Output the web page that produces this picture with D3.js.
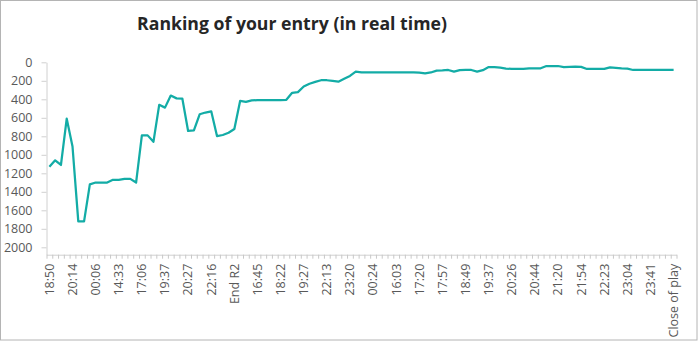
<!DOCTYPE html>
<html>
<head>
<meta charset="utf-8">
<script src="https://cdn.jsdelivr.net/npm/d3@7"></script>
<style>
  html, body { margin: 0; padding: 0; background: #fff; }
  svg { display: block; }
</style>
</head>
<body>
<svg id="chart" width="698" height="341"></svg>
<script>
// ---- data ----
const titleText = "Ranking of your entry (in real time)";
const tickLabels = ["18:50","20:14","00:06","14:33","17:06","19:37","20:27","22:16","End R2","16:45","18:22","19:27","22:13","23:20","00:24","16:03","17:20","17:57","18:49","19:37","20:26","20:44","21:20","21:54","22:23","23:04","23:41","Close of play"];
const labelEvery = 4;
const ranks = [
  1130,1060,1110,610,910,1720,1720,1320,1300,1300,
  1300,1270,1270,1260,1260,1300,790,790,860,460,
  490,360,390,392,742,735,562,543,530,798,
  786,762,721,418,427,411,410,410,410,410,
  410,405,330,323,262,232,212,194,194,202,
  210,178,147,100,108,110,110,110,110,110,
  110,110,110,110,112,120,110,90,88,83,
  101,84,83,83,100,85,52,53,58,68,
  72,72,72,65,65,65,40,40,40,52,
  50,47,50,72,72,72,72,55,60,65,
  68,83,83,83,83,83,83,83,83
];
const yTicks = [0,200,400,600,800,1000,1200,1400,1600,1800,2000];
const yMax = 2080;

// ---- layout ----
const svg = d3.select("#chart");
const W = 698, H = 341;
const x0 = 46.5, x1 = 676.5;
const yTop = 62.3, yBot = 254.7;

svg.append("rect").attr("x",0.5).attr("y",0.5).attr("width",W-1.5).attr("height",H-1.5)
  .attr("fill","#fff").attr("stroke","#b4b4b4").attr("stroke-width",1);

const n = ranks.length;
const idx = d3.range(n);
const xBand = d3.scaleBand().domain(idx).range([x0,x1]).padding(0);
const xEdge = d3.scaleLinear().domain([0,n]).range([x0,x1]);
const y = d3.scaleLinear().domain([0,yMax]).range([yTop,yBot]);

const font = "'Open Sans', 'Noto Sans', sans-serif";

// title (fit to reference width)
const title = svg.append("text").attr("x",292).attr("y",30).attr("text-anchor","middle")
  .attr("font-family","'Open Sans', sans-serif").attr("font-weight","bold")
  .attr("font-size",18).attr("fill","#262626").text(titleText);
const tw = title.node().getComputedTextLength();
title.attr("font-size", Math.min(19, 18 * 310 / tw));

// y axis
const gy = svg.append("g").attr("transform",`translate(${x0},0)`)
  .call(d3.axisLeft(y).tickValues(yTicks).tickFormat(d3.format("d"))
    .tickSize(5).tickSizeOuter(0).tickPadding(9));
gy.select(".domain").attr("stroke","#d0d0d0");
gy.selectAll(".tick line").attr("stroke","#d0d0d0");
gy.selectAll(".tick text").attr("font-family",font).attr("font-size",12.5).attr("fill","#595959");

// x axis ticks at category boundaries
const gxt = svg.append("g").attr("transform",`translate(0,${yBot})`)
  .call(d3.axisBottom(xEdge).tickValues(d3.range(n+1)).tickFormat("").tickSize(4).tickSizeOuter(0));
gxt.select(".domain").attr("stroke","#d0d0d0");
gxt.selectAll(".tick line").attr("stroke","#c8c8c8");

// x labels
const labelIdx = idx.filter(i => i % labelEvery === 0);
const gxl = svg.append("g").attr("transform",`translate(0,${yBot})`)
  .call(d3.axisBottom(xBand).tickValues(labelIdx)
    .tickFormat(i => tickLabels[i/labelEvery]).tickSize(0).tickSizeOuter(0));
gxl.select(".domain").remove();
gxl.selectAll(".tick text")
  .attr("font-family",font).attr("font-size",12.5).attr("fill","#595959")
  .attr("text-anchor","end").attr("dy","0.35em")
  .attr("transform","translate(0,9) rotate(-90)")
  .attr("x",0).attr("y",0);

// line
const line = d3.line().x((d,i) => xBand(i) + xBand.bandwidth()/2).y(d => y(d));
svg.append("path").datum(ranks).attr("d",line).attr("fill","none")
  .attr("stroke","#13aca6").attr("stroke-width",2.25).attr("stroke-linejoin","round");
</script>
</body>
</html>
